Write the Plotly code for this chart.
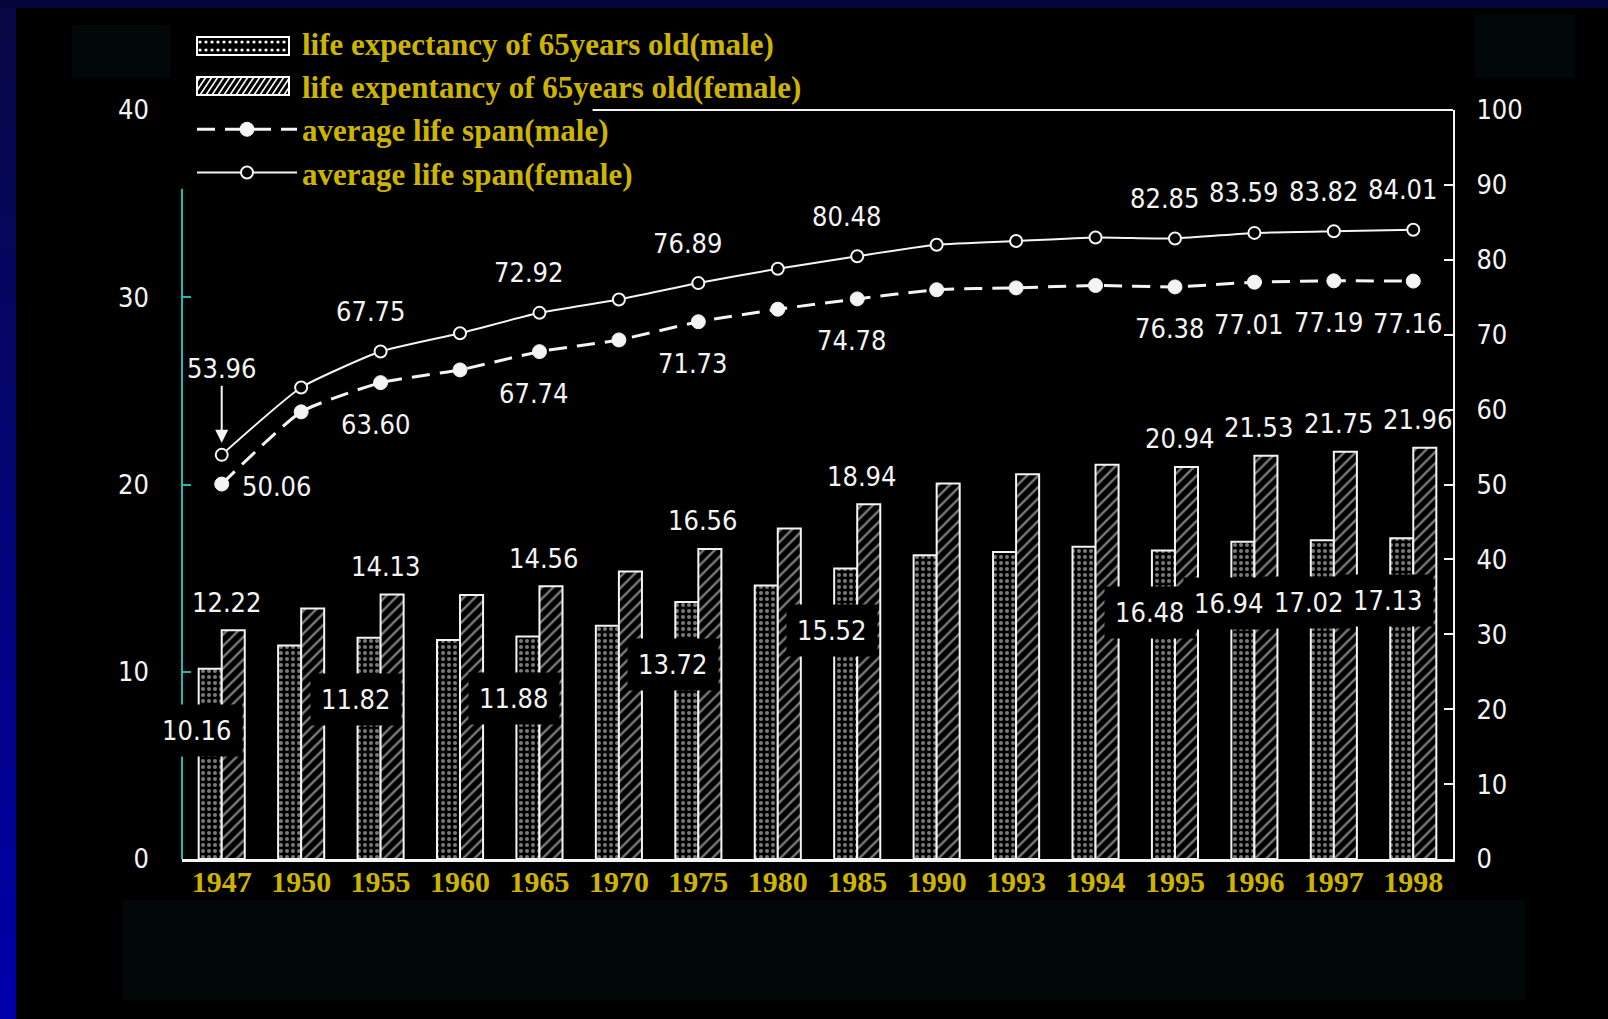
import base64
import plotly.graph_objects as go

years = ["1947", "1950", "1955", "1960", "1965", "1970", "1975", "1980",
         "1985", "1990", "1993", "1994", "1995", "1996", "1997", "1998"]
male65 = [10.16, 11.40, 11.82, 11.70, 11.88, 12.45, 13.72, 14.60,
          15.52, 16.22, 16.40, 16.67, 16.48, 16.94, 17.02, 17.13]
female65 = [12.22, 13.38, 14.13, 14.10, 14.56, 15.35, 16.56, 17.65,
            18.94, 20.05, 20.55, 21.05, 20.94, 21.53, 21.75, 21.96]
male_span = [50.06, 59.70, 63.60, 65.30, 67.74, 69.30, 71.73, 73.40,
             74.78, 76.00, 76.25, 76.57, 76.38, 77.01, 77.19, 77.16]
female_span = [53.96, 62.95, 67.75, 70.20, 72.92, 74.70, 76.89, 78.80,
               80.48, 82.00, 82.50, 82.98, 82.85, 83.59, 83.82, 84.01]
labeled = ["1947", "1955", "1965", "1975", "1985", "1995", "1996", "1997", "1998"]

series_names = ["life expectancy of 65years old(male)",
                "life expentancy of 65years old(female)",
                "average life span(male)",
                "average life span(female)"]

WHITE = "#f4f4f4"
YELLOW = "#ccb400"
TEAL = "#22b8b0"
NUM_FONT = "DejaVu Sans Condensed, DejaVu Sans, sans-serif"
SERIF = "Liberation Serif, Times New Roman, serif"

W, H = 1608, 1019
ML, MR, MT, MB = 182, 155, 110, 160
PW, PH = W - ML - MR, H - MT - MB


def px_x(px):
    return (px - ML) / PW


def px_y(py):
    return (H - MB - py) / PH


fig = go.Figure()
fig.add_trace(go.Bar(
    x=years, y=male65, name=series_names[0], showlegend=False,
    marker=dict(color="black", line=dict(color=WHITE, width=2),
                pattern=dict(shape=".", fgcolor=WHITE, bgcolor="black", size=6, solidity=0.35)),
))
fig.add_trace(go.Bar(
    x=years, y=female65, name=series_names[1], showlegend=False,
    marker=dict(color="black", line=dict(color=WHITE, width=2),
                pattern=dict(shape="/", fgcolor=WHITE, bgcolor="black", size=8, solidity=0.3)),
))
# legend-only entries for the bar series (swatches drawn as images)
for nm in series_names[:2]:
    fig.add_trace(go.Scatter(x=[None], y=[None], mode="markers", name=nm,
                             marker=dict(opacity=0, size=1), hoverinfo="skip"))
fig.add_trace(go.Scatter(
    x=years, y=male_span, name=series_names[2], yaxis="y2", mode="lines+markers",
    line=dict(color=WHITE, width=3, dash="18px,10px", shape="spline", smoothing=0.5),
    marker=dict(symbol="circle", size=14, color=WHITE, line=dict(color=WHITE, width=1)),
))
fig.add_trace(go.Scatter(
    x=years, y=female_span, name=series_names[3], yaxis="y2", mode="lines+markers",
    line=dict(color=WHITE, width=2, shape="spline", smoothing=0.5),
    marker=dict(symbol="circle", size=12, color="black", line=dict(color=WHITE, width=2)),
))

ann = []
numf = dict(family=NUM_FONT, size=27, color=WHITE)
for i, (yr, m, f, ms, fs) in enumerate(zip(years, male65, female65, male_span, female_span)):
    if yr not in labeled:
        continue
    ann.append(dict(x=i, y=m, xref="x", yref="y", text=f"{m:.2f}", showarrow=False,
                    xshift=-25, yshift=-62, bgcolor="black", borderpad=10, font=numf))
    ann.append(dict(x=i, y=f, xref="x", yref="y", text=f"{f:.2f}", showarrow=False,
                    xshift=5, yshift=28, font=numf))
    if i == 0:
        ann.append(dict(x=i, y=fs, xref="x", yref="y2", text=f"{fs:.2f}", showarrow=True,
                        ax=0, ay=-86, arrowhead=2, arrowsize=1.3, arrowwidth=2,
                        arrowcolor=WHITE, standoff=12, font=numf))
        ann.append(dict(x=i, y=ms, xref="x", yref="y2", text=f"{ms:.2f}", showarrow=False,
                        xshift=55, yshift=-2, font=numf))
    else:
        ann.append(dict(x=i, y=fs, xref="x", yref="y2", text=f"{fs:.2f}", showarrow=False,
                        xshift=-10, yshift=40, font=numf))
        ann.append(dict(x=i, y=ms, xref="x", yref="y2", text=f"{ms:.2f}", showarrow=False,
                        xshift=-5, yshift=-42, font=numf))

shapes = []
# left blue gradient strip and top navy strip
n = 24
for k in range(n):
    t = k / (n - 1)
    r, g, b = int(8 * (1 - t)), int(8 * (1 - t)), int(70 + (170 - 70) * t)
    y_top = k * H / n
    y_bot = (k + 1) * H / n + 1
    shapes.append(dict(type="rect", xref="paper", yref="paper", layer="below",
                       x0=px_x(0), x1=px_x(16), y0=px_y(y_bot), y1=px_y(y_top),
                       line=dict(width=0), fillcolor=f"rgb({r},{g},{b})"))
shapes.append(dict(type="rect", xref="paper", yref="paper", layer="below",
                   x0=px_x(0), x1=px_x(W), y0=px_y(8), y1=px_y(0),
                   line=dict(width=0), fillcolor="#05053e"))
# faint slide boxes
for (a0, b0, a1, b1) in [(123, 900, 1525, 1000), (72, 25, 170, 78), (1475, 15, 1575, 78)]:
    shapes.append(dict(type="rect", xref="paper", yref="paper", layer="below",
                       x0=px_x(a0), x1=px_x(a1), y0=px_y(b1), y1=px_y(b0),
                       line=dict(width=0), fillcolor="#020808"))
# left axis line (teal)
shapes.append(dict(type="line", xref="x domain", yref="y", x0=0, x1=0, y0=0, y1=35.8,
                   line=dict(color=TEAL, width=2)))
# top frame line
shapes.append(dict(type="line", xref="x domain", yref="y domain", x0=0.323, x1=1, y0=1, y1=1,
                   line=dict(color=WHITE, width=2)))


def svg_uri(svg):
    return "data:image/svg+xml;base64," + base64.b64encode(svg.encode()).decode()


dots = "".join(f'<circle cx="{4 + 6 * c}" cy="{6 + 8 * r}" r="1.6" fill="white"/>'
               for r in range(2) for c in range(15))
male_svg = ('<svg xmlns="http://www.w3.org/2000/svg" width="94" height="20" viewBox="0 0 94 20">'
            '<rect x="1" y="1" width="92" height="18" fill="black" stroke="white" stroke-width="2"/>'
            + dots + '</svg>')
hatch = "".join(f'<line x1="{x}" y1="19" x2="{x + 12}" y2="1" stroke="white" stroke-width="1.6"/>'
                for x in range(-8, 94, 6))
female_svg = ('<svg xmlns="http://www.w3.org/2000/svg" width="94" height="20" viewBox="0 0 94 20">'
              '<rect x="1" y="1" width="92" height="18" fill="black"/>'
              '<clipPath id="c"><rect x="1" y="1" width="92" height="18"/></clipPath>'
              '<g clip-path="url(#c)">' + hatch + '</g>'
              '<rect x="1" y="1" width="92" height="18" fill="none" stroke="white" stroke-width="2"/>'
              '</svg>')
images = [
    dict(source=svg_uri(male_svg), xref="paper", yref="paper", x=px_x(196), y=px_y(36),
         sizex=94 / PW, sizey=20 / PH, xanchor="left", yanchor="top", sizing="stretch",
         layer="above"),
    dict(source=svg_uri(female_svg), xref="paper", yref="paper", x=px_x(196), y=px_y(76),
         sizex=94 / PW, sizey=20 / PH, xanchor="left", yanchor="top", sizing="stretch",
         layer="above"),
]

fig.update_layout(
    width=W, height=H,
    paper_bgcolor="black", plot_bgcolor="black",
    margin=dict(l=ML, r=MR, t=MT, b=MB),
    barmode="group", bargap=0.42, bargroupgap=0,
    showlegend=True,
    legend=dict(x=px_x(192), y=px_y(16), xanchor="left", yanchor="top",
                bgcolor="rgba(0,0,0,0)",
                font=dict(family=SERIF, size=31, color=YELLOW, weight="bold"),
                itemwidth=100, traceorder="normal"),
    xaxis=dict(type="category", range=[-0.5, len(years) - 0.5], showgrid=False,
               showline=True, linecolor=WHITE, linewidth=3,
               ticks="", tickfont=dict(family=SERIF, size=30, color=YELLOW, weight="bold"),
               ticklabelstandoff=-6, zeroline=False),
    yaxis=dict(range=[0, 40], tickvals=[0, 10, 20, 30, 40], showgrid=False, zeroline=False,
               showline=False, ticks="inside", ticklen=9, tickcolor=TEAL, tickwidth=2,
               tickfont=dict(family=NUM_FONT, size=27, color=WHITE), ticklabelstandoff=32),
    yaxis2=dict(range=[0, 100], dtick=10, overlaying="y", side="right", showgrid=False,
                zeroline=False, showline=True, linecolor=WHITE, linewidth=2,
                ticks="inside", ticklen=9, tickcolor=WHITE, tickwidth=2,
                tickfont=dict(family=NUM_FONT, size=27, color=WHITE), ticklabelstandoff=16),
    annotations=ann, shapes=shapes, images=images,
)

fig.write_html("out.html", config={"displayModeBar": False},
               post_script="document.body.style.margin='0';document.body.style.background='black';"
                           "document.body.style.overflow='hidden';")
